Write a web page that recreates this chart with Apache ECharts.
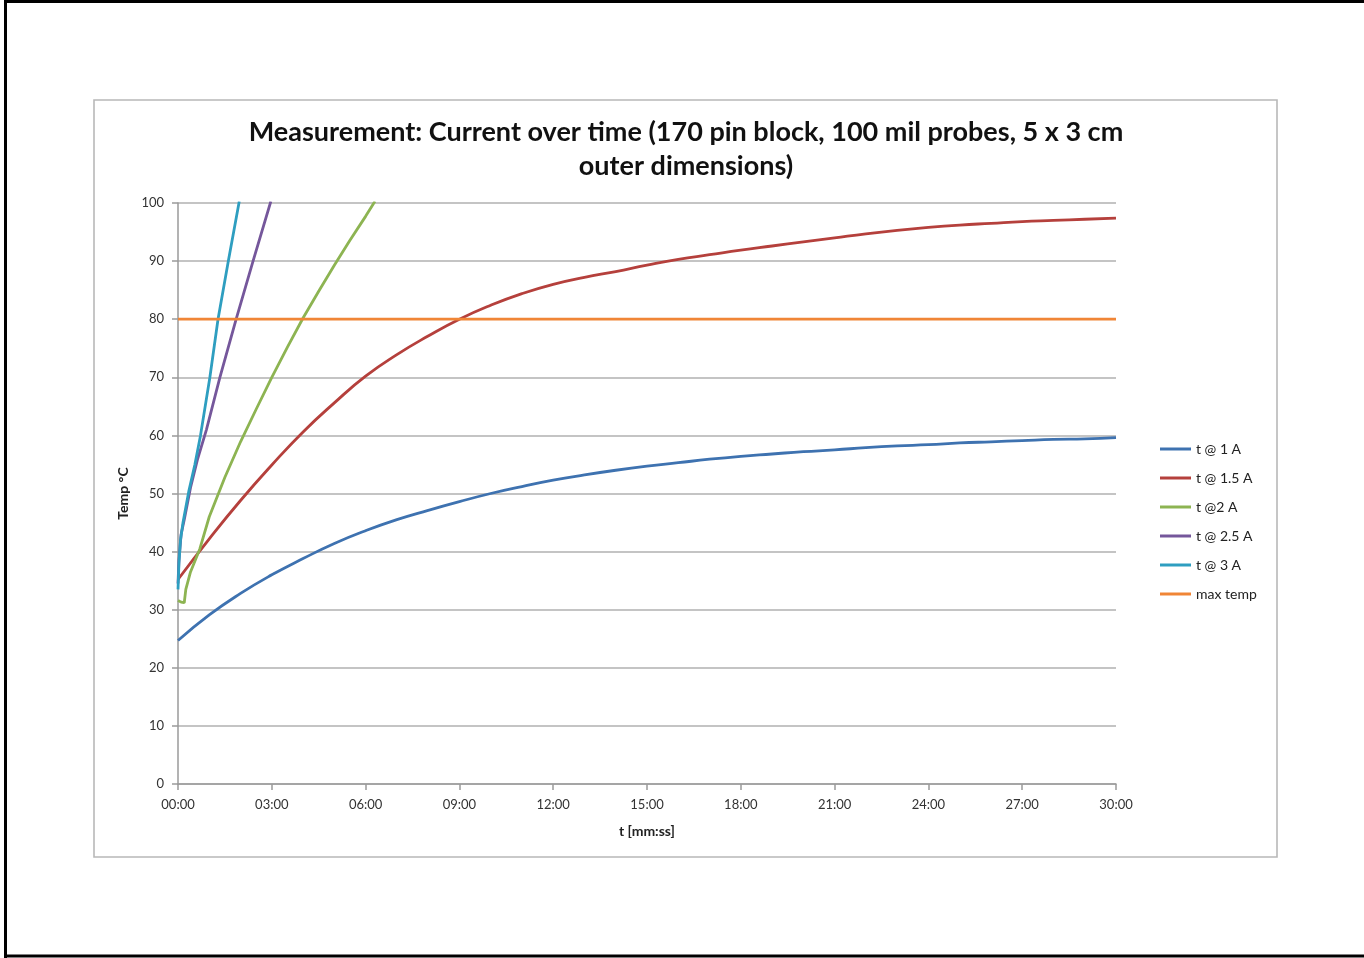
<!DOCTYPE html>
<html>
<head>
<meta charset="utf-8">
<script src="https://cdn.jsdelivr.net/npm/echarts@6/dist/echarts.min.js"></script>
<style>
html,body{margin:0;padding:0;background:#fff;}
#chart{width:1364px;height:958px;}
</style>
</head>
<body>
<div id="chart"></div>
<script>
// ---- data (time in minutes, temperature in °C) ----
var seriesNames = ['t @ 1 A', 't @ 1.5 A', 't @2 A', 't @ 2.5 A', 't @ 3 A', 'max temp'];
var xTickLabels = ['00:00','03:00','06:00','09:00','12:00','15:00','18:00','21:00','24:00','27:00','30:00'];
var yTicks = [0,10,20,30,40,50,60,70,80,90,100];

var minutes = [0,1,2,3,4,5,6,7,8,9,10,11,12,13,14,15,16,17,18,19,20,21,22,23,24,25,26,27,28,29,30];
var temp1A = [24.7,29.1,32.8,36.0,38.8,41.4,43.6,45.5,47.1,48.6,50.0,51.2,52.3,53.2,54.0,54.7,55.3,55.9,56.4,56.8,57.2,57.5,57.9,58.2,58.4,58.7,58.9,59.1,59.3,59.4,59.6];
var temp15A = [35.2,42.2,48.8,54.9,60.6,65.6,70.2,73.9,77.1,80.0,82.4,84.4,86.0,87.2,88.2,89.3,90.3,91.1,91.9,92.6,93.3,94.0,94.7,95.3,95.8,96.2,96.5,96.8,97.0,97.2,97.4];

var time2A = [0,0.1,0.2,0.25,0.4,0.7,1.0,1.5,2.0,2.5,3.0,3.5,4.0,4.5,5.0,5.5,6.0,6.3];
var temp2A = [31.6,31.3,31.2,33.5,36.5,40.5,46.0,52.8,58.9,64.5,70.0,75.2,80.2,84.8,89.3,93.6,97.7,100.3];

var time25A = [0,0.03,0.1,0.2,0.4,0.62,0.91,1.34,1.86,2.4,2.97];
var temp25A = [34.5,38.5,43.0,45.5,51.0,55.8,61.0,70.0,80.0,90.0,100.3];

var time3A = [0,0.03,0.08,0.16,0.35,0.54,0.72,1.02,1.28,1.61,1.96];
var temp3A = [33.5,38.0,42.0,45.0,50.5,55.0,60.0,70.0,80.0,90.0,100.3];

var timeMax = [0,30];
var tempMax = [80,80];

var colors = ['#3E72B0','#B5403C','#8DB452','#75579B','#2E9EC0','#F08536'];

function pairs(xs, ys){ return xs.map(function(x,i){ return [x, ys[i]]; }); }

var chart = echarts.init(document.getElementById('chart'), null, {renderer:'canvas'});
var font = 'Lato, "Open Sans", sans-serif';

function mkSeries(i, data, smooth){
  return {
    name: seriesNames[i], type:'line', data: data, showSymbol:false, symbol:'none',
    smooth: smooth, clip: true,
    lineStyle:{color:colors[i], width:2.8}, itemStyle:{color:colors[i]},
    emphasis:{disabled:true}, z: 3 + i
  };
}

var option = {
  animation:false,
  color: colors,
  textStyle:{fontFamily:font},
  title:{
    text:'Measurement: Current over time (170 pin block, 100 mil probes, 5 x 3 cm\nouter dimensions)',
    left:681, top:110, textAlign:'center',
    textStyle:{fontFamily:font, fontSize:27, fontWeight:'bold', color:'#111', lineHeight:34}
  },
  legend:{
    orient:'vertical', left:1160, top:441, itemGap:13, padding:0,
    icon:'rect', itemWidth:31, itemHeight:3,
    data: seriesNames,
    textStyle:{fontFamily:font, fontSize:14, color:'#222', lineHeight:16},
    selectedMode:false
  },
  grid:{left:178, right:248, top:203, bottom:174, containLabel:false},
  xAxis:{
    type:'value', min:0, max:30, interval:3,
    name:'t [mm:ss]', nameLocation:'middle', nameGap:40,
    nameTextStyle:{fontFamily:font, fontSize:14, fontWeight:'bold', color:'#222'},
    axisLine:{show:true, lineStyle:{color:'#9a9a9a', width:1.5}},
    axisTick:{show:true, length:6, lineStyle:{color:'#9a9a9a', width:1.5}},
    axisLabel:{fontFamily:font, fontSize:13, color:'#333', margin:14,
      formatter:function(v){ return xTickLabels[Math.round(v/3)]; }},
    splitLine:{show:false}
  },
  yAxis:{
    type:'value', min:yTicks[0], max:yTicks[yTicks.length-1], interval:10,
    name:'Temp °C', nameLocation:'middle', nameGap:48, nameRotate:90,
    nameTextStyle:{fontFamily:font, fontSize:14, fontWeight:'bold', color:'#222'},
    axisLine:{show:true, lineStyle:{color:'#9a9a9a', width:1.5}},
    axisTick:{show:true, length:6, lineStyle:{color:'#9a9a9a', width:1.5}},
    axisLabel:{fontFamily:font, fontSize:13, color:'#333', margin:14},
    splitLine:{show:true, lineStyle:{color:'#b0b0b0', width:1.5}}
  },
  graphic:[
    {type:'line', shape:{x1:5.5,y1:1.5,x2:1364,y2:1.5}, style:{stroke:'#000', lineWidth:3}, silent:true, z:-10},
    {type:'line', shape:{x1:5.5,y1:0,x2:5.5,y2:958}, style:{stroke:'#000', lineWidth:3}, silent:true, z:-10},
    {type:'line', shape:{x1:5.5,y1:956,x2:1364,y2:956}, style:{stroke:'#000', lineWidth:3}, silent:true, z:-10},
    {type:'rect', shape:{x:94,y:100,width:1183,height:757},
     style:{fill:'none', stroke:'#b8b8b8', lineWidth:1.6}, silent:true, z:-9}
  ],
  series:[
    mkSeries(0, pairs(minutes, temp1A), true),
    mkSeries(1, pairs(minutes, temp15A), true),
    mkSeries(2, pairs(time2A, temp2A), false),
    mkSeries(3, pairs(time25A, temp25A), false),
    mkSeries(4, pairs(time3A, temp3A), false),
    mkSeries(5, pairs(timeMax, tempMax), false)
  ]
};
chart.setOption(option);
</script>
</body>
</html>
